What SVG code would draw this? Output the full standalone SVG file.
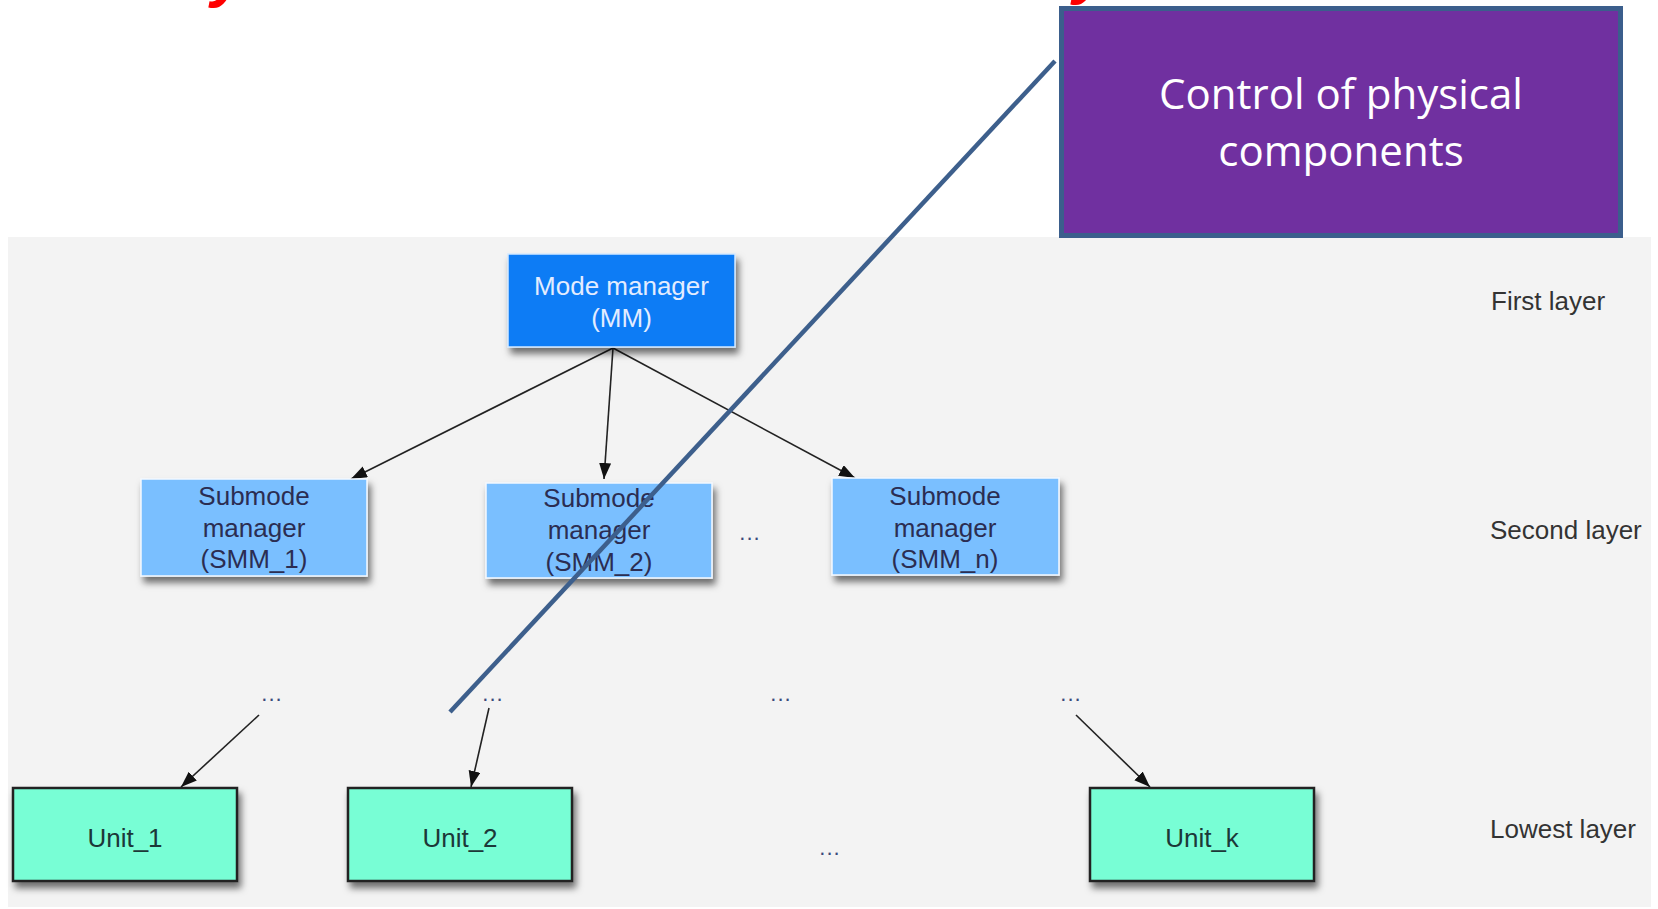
<svg xmlns="http://www.w3.org/2000/svg" width="1658" height="909" viewBox="0 0 1658 909">
  <style>
    .lbl { font-family: "Liberation Sans", Arial, sans-serif; font-size: 26px; text-anchor: middle; }
    .mm-text { fill: #e3ecff; }
    .smm-text { fill: #2b2d52; }
    .unit-text { fill: #1c3838; }
    .layer { font-family: "Liberation Sans", Arial, sans-serif; font-size: 26px; fill: #333333; }
    .dots { font-family: "Liberation Sans", Arial, sans-serif; font-size: 22px; fill: #3a4a7a; text-anchor: middle; letter-spacing: 1px; }
    .title { font-family: "Liberation Sans", Arial, sans-serif; font-size: 64px; font-weight: bold; font-style: italic; fill: #ff0000; }
    .mm { fill: #0b7bf5; stroke: #d4e9ff; stroke-width: 1.5; }
    .smm { fill: #7abfff; stroke: #f4f9ff; stroke-width: 1.5; }
    .unit { fill: #78fed5; stroke: #222222; stroke-width: 2.5; }
    .edge { fill: none; stroke: #222222; stroke-width: 1.6; marker-end: url(#arrow); }
    .callout { fill: #7030a0; stroke: #3b5e8c; stroke-width: 5; }
    .callout-text { font-family: "Open Sans", "Noto Sans", sans-serif; font-size: 42px; fill: #ffffff; text-anchor: middle; }
  </style>
  <defs>
    <filter id="shadow" x="-10%" y="-10%" width="125%" height="140%">
      <feDropShadow dx="3" dy="6" stdDeviation="3.5" flood-color="#000000" flood-opacity="0.55"/>
    </filter>
    <marker id="arrow" markerUnits="userSpaceOnUse" markerWidth="18" markerHeight="14" refX="16" refY="6" orient="auto">
      <path d="M0,0 L16,6 L0,12 Z" fill="#111111"/>
    </marker>
  </defs>

  <!-- page -->
  <rect x="0" y="0" width="1658" height="909" fill="#ffffff"/>

  <!-- red heading running off the top edge -->
  <text class="title" x="211" y="-5">y</text>
  <text class="title" x="1073" y="-8">y</text>

  <!-- diagram panel -->
  <rect x="8" y="237" width="1643" height="670" fill="#f3f3f3"/>

  <!-- layer captions -->
  <text class="layer" x="1491" y="310">First layer</text>
  <text class="layer" x="1490" y="539">Second layer</text>
  <text class="layer" x="1490" y="838">Lowest layer</text>

  <!-- connectors -->
  <g id="connectors">
    <line class="edge" x1="613" y1="348" x2="351" y2="479"/>
    <line class="edge" x1="613" y1="348" x2="604" y2="479"/>
    <line class="edge" x1="613" y1="348" x2="855" y2="478"/>
    <line class="edge" x1="259" y1="715" x2="181" y2="787"/>
    <line class="edge" x1="489" y1="708" x2="471" y2="787"/>
    <line class="edge" x1="1076" y1="715" x2="1150" y2="787"/>
  </g>

  <!-- first layer -->
  <g id="mm">
    <rect class="mm" x="508" y="254" width="227" height="93" filter="url(#shadow)"/>
    <text class="lbl mm-text" x="621.5" y="295">Mode manager</text>
    <text class="lbl mm-text" x="621.5" y="327">(MM)</text>
  </g>

  <!-- second layer -->
  <g id="smm1">
    <rect class="smm" x="141" y="479" width="226" height="97" filter="url(#shadow)"/>
    <text class="lbl smm-text" x="254" y="505">Submode</text>
    <text class="lbl smm-text" x="254" y="537">manager</text>
    <text class="lbl smm-text" x="254" y="568">(SMM_1)</text>
  </g>
  <g id="smm2">
    <rect class="smm" x="486" y="483" width="226" height="95" filter="url(#shadow)"/>
    <text class="lbl smm-text" x="599" y="507">Submode</text>
    <text class="lbl smm-text" x="599" y="539">manager</text>
    <text class="lbl smm-text" x="599" y="571">(SMM_2)</text>
  </g>
  <g id="smmn">
    <rect class="smm" x="832" y="478" width="227" height="97" filter="url(#shadow)"/>
    <text class="lbl smm-text" x="945" y="505">Submode</text>
    <text class="lbl smm-text" x="945" y="537">manager</text>
    <text class="lbl smm-text" x="945" y="568">(SMM_n)</text>
  </g>

  <!-- elided nodes -->
  <text class="dots" x="750" y="540">...</text>
  <text class="dots" x="272" y="701">...</text>
  <text class="dots" x="493" y="701">...</text>
  <text class="dots" x="781" y="701">...</text>
  <text class="dots" x="1071" y="701">...</text>
  <text class="dots" x="830" y="855">...</text>

  <!-- lowest layer -->
  <g id="unit1">
    <rect class="unit" x="13" y="788" width="224" height="93" filter="url(#shadow)"/>
    <text class="lbl unit-text" x="125" y="847">Unit_1</text>
  </g>
  <g id="unit2">
    <rect class="unit" x="348" y="788" width="224" height="93" filter="url(#shadow)"/>
    <text class="lbl unit-text" x="460" y="847">Unit_2</text>
  </g>
  <g id="unitk">
    <rect class="unit" x="1090" y="788" width="224" height="93" filter="url(#shadow)"/>
    <text class="lbl unit-text" x="1202" y="847">Unit_k</text>
  </g>

  <!-- callout -->
  <g id="callout">
    <line x1="1055" y1="61" x2="450" y2="712" stroke="#3d5f8c" stroke-width="4.5"/>
    <rect class="callout" x="1061.5" y="8.5" width="559" height="227"/>
    <text class="callout-text" x="1341" y="109">Control of physical</text>
    <text class="callout-text" x="1341" y="166">components</text>
  </g>
</svg>
